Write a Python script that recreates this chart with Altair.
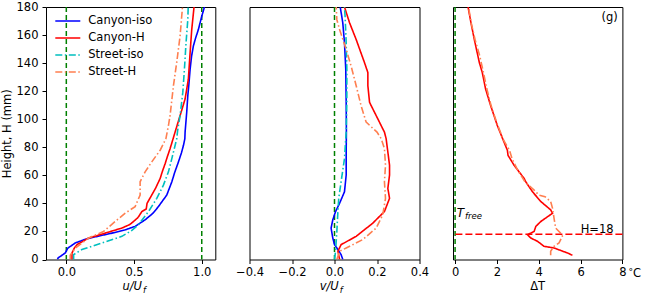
import altair as alt
import pandas as pd

SERIES = ["Canyon-iso", "Canyon-H", "Street-iso", "Street-H"]
COLORS = ["#0000ff", "#ff0000", "#00bfbf", "#ff7f50"]
DASHES = [[1, 0], [1, 0], [7, 2.5, 1.5, 2.5], [7, 2.5, 1.5, 2.5]]

# ---- panel 1: u/U_f ----
u_ci_H = [0, 1.1, 4.7, 8, 11.8, 14.8, 16.5, 18.8, 21, 23.6, 28.3, 33, 37.7, 46, 55.4, 62, 69.6, 76, 81.4, 86, 90.8, 105, 116.8, 125, 135.6, 145, 152.2, 158, 163.9, 173.4, 180]
u_ci = [-0.065, -0.061, -0.007, 0.01, 0.066, 0.152, 0.23, 0.337, 0.43, 0.508, 0.582, 0.64, 0.68, 0.742, 0.779, 0.80, 0.828, 0.85, 0.865, 0.875, 0.877, 0.889, 0.897, 0.905, 0.914, 0.925, 0.938, 0.955, 0.975, 1.0, 1.02]
u_ch_H = [0, 4.7, 8.3, 10.6, 15.3, 18.8, 22.4, 25, 27.1, 30, 34.2, 36, 40, 46, 51, 57.8, 63, 68.4, 73, 79, 85, 90.8, 102.6, 114.4, 128.5, 147.4, 163.9, 180]
u_ch = [0.042, 0.042, 0.06, 0.079, 0.165, 0.287, 0.41, 0.47, 0.496, 0.53, 0.558, 0.59, 0.596, 0.631, 0.66, 0.693, 0.71, 0.73, 0.745, 0.766, 0.785, 0.803, 0.84, 0.877, 0.901, 0.914, 0.926, 0.943]
u_si_H = [0, 3.5, 7.1, 11.8, 16.5, 20.5, 24.8, 34.2, 43.6, 53, 62.5, 71.9, 86, 92, 102.6, 119.1, 135.6, 154.5, 171, 180]
u_si = [0.054, 0.054, 0.115, 0.263, 0.41, 0.48, 0.533, 0.607, 0.668, 0.717, 0.754, 0.779, 0.815, 0.822, 0.84, 0.86, 0.872, 0.884, 0.897, 0.9]
u_sh_H = [0, 3, 8.2, 15.3, 20, 27.1, 33, 37.7, 46, 55.4, 62.5, 69.6, 77.9, 86, 95.5, 102.6, 123.9, 140.4, 159.3, 173.4, 180]
u_sh = [0.029, 0.029, 0.066, 0.165, 0.275, 0.361, 0.435, 0.508, 0.545, 0.545, 0.582, 0.631, 0.693, 0.735, 0.754, 0.766, 0.791, 0.815, 0.84, 0.852, 0.858]

# ---- panel 2: v/U_f ----
v_ci_H = [0, 3.5, 7.1, 10.6, 15.3, 22.4, 28.3, 34.2, 40.1, 48.3, 60.2, 76.7, 90.8, 112, 135.6, 154.5, 168.7, 180]
v_ci = [0.039, 0.031, 0.016, 0.0, -0.008, -0.016, -0.008, 0.005, 0.024, 0.047, 0.055, 0.055, 0.056, 0.055, 0.053, 0.047, 0.039, 0.027]
v_ch_H = [0, 3, 5.9, 10.6, 16.5, 25.9, 34.2, 43.6, 50.7, 60.2, 67.2, 76.7, 86.1, 90.8, 100.2, 112, 123.9, 133.3, 140.4, 156.8, 168.7, 180]
v_ch = [0.024, 0.02, 0.016, 0.031, 0.102, 0.18, 0.235, 0.259, 0.251, 0.259, 0.259, 0.251, 0.243, 0.235, 0.204, 0.165, 0.157, 0.157, 0.141, 0.102, 0.071, 0.047]
v_si_H = [0, 5.9, 20, 34.2, 43.6, 55.4, 71.9, 90.8, 112, 135.6, 154.5, 173, 180]
v_si = [0.0, 0.005, 0.011, 0.016, 0.02, 0.031, 0.047, 0.055, 0.058, 0.058, 0.055, 0.05, 0.047]
v_sh_H = [0, 5.9, 8.2, 14.2, 22.4, 31.9, 43.6, 55.4, 67.2, 79, 86.1, 90.8, 97.9, 109.7, 123.9, 138, 149.8, 163.9, 171, 180]
v_sh = [0.011, 0.024, 0.055, 0.133, 0.196, 0.227, 0.24, 0.235, 0.24, 0.235, 0.22, 0.2, 0.149, 0.125, 0.102, 0.078, 0.055, 0.024, 0.011, 0.008]

# ---- panel 3: Delta T ----
t_ch_H = [3.0, 4.7, 8.2, 9.4, 13, 15.3, 17.7, 20, 23.6, 27.1, 33, 35.4, 41.3, 48.3, 55.4, 57.8, 67.2, 74.3, 77.9, 83.7, 95.5, 109.7, 121.5, 133.3, 140.4, 156.8, 168.7, 180]
t_ch = [5.61, 5.37, 4.73, 4.25, 3.94, 3.62, 3.46, 3.78, 3.86, 4.10, 4.66, 4.57, 4.10, 3.70, 3.38, 3.30, 2.82, 2.53, 2.50, 2.34, 2.02, 1.70, 1.46, 1.30, 1.16, 0.92, 0.76, 0.62]
t_sh_H = [3.0, 5.9, 9.4, 11.8, 16.5, 18.8, 22.4, 29.5, 36.5, 41.3, 44.8, 46, 49.5, 55.4, 64, 72, 77.9, 85, 98, 109.7, 121.5, 133, 145, 157, 168, 180]
t_sh = [4.57, 4.57, 4.73, 4.97, 5.13, 5.05, 4.81, 4.73, 4.66, 4.57, 4.30, 4.0, 3.78, 3.34, 2.98, 2.72, 2.60, 2.32, 1.98, 1.72, 1.52, 1.36, 1.18, 0.95, 0.78, 0.64]

zero_lines_1 = [0.0, 1.0]
zero_lines_2 = [0.0]
zero_lines_3 = [0.0]
ref_height = [18]
ticks_u = [0.0, 0.5, 1.0]
ticks_v = [-0.4, -0.2, 0.0, 0.2, 0.4]
ticks_t = [0, 2, 4, 6, 8]
ticks_h = list(range(0, 181, 20))

FONT = "DejaVu Sans"
FS = 11.5
W1, W2, W3 = 169.3, 170, 169.4
HGT = 252.5


def long(pairs):
    rows = []
    for name, H, vals in pairs:
        for h, v in zip(H, vals):
            rows.append({"series": name, "H": h, "val": v})
    return pd.DataFrame(rows)


yscale = alt.Scale(domain=[0, 180], nice=False, zero=False)


def xaxis(vals, fmt):
    return alt.Axis(values=vals, format=fmt, title=None, grid=False, domain=False,
                    tickSize=4, labelPadding=3, labelFlush=False, labelOverlap=False)


def lines(df, xdom, xax, yax):
    return alt.Chart(df).mark_line(strokeWidth=1.6, clip=True).encode(
        x=alt.X("val:Q", scale=alt.Scale(domain=xdom, nice=False, zero=False), axis=xax),
        y=alt.Y("H:Q", scale=yscale, axis=yax),
        color=alt.Color("series:N", scale=alt.Scale(domain=SERIES, range=COLORS), legend=None),
        strokeDash=alt.StrokeDash("series:N", scale=alt.Scale(domain=SERIES, range=DASHES), legend=None),
        order=alt.Order("H:Q"),
    )


def vrules(vals):
    return alt.Chart(pd.DataFrame({"val": vals})).mark_rule(
        color="#008000", strokeDash=[5, 3], strokeWidth=1.5).encode(x="val:Q")


def label(txt, x, y, size=FS, align="left", style="normal", baseline="alphabetic", color="black"):
    return alt.Chart(pd.DataFrame({"t": [txt]})).mark_text(
        align=align, baseline=baseline, font=FONT, fontSize=size, fontStyle=style, color=color
    ).encode(text="t:N", x=alt.value(x), y=alt.value(y))


yax1 = alt.Axis(values=ticks_h, title="Height, H (mm)", grid=False, domain=False,
                tickSize=4, labelPadding=4, titlePadding=4)

df1 = long([(SERIES[0], u_ci_H, u_ci), (SERIES[1], u_ch_H, u_ch),
            (SERIES[2], u_si_H, u_si), (SERIES[3], u_sh_H, u_sh)])
df2 = long([(SERIES[0], v_ci_H, v_ci), (SERIES[1], v_ch_H, v_ch),
            (SERIES[2], v_si_H, v_si), (SERIES[3], v_sh_H, v_sh)])
df3 = long([(SERIES[1], t_ch_H, t_ch), (SERIES[3], t_sh_H, t_sh)])

# legend (manual, inside panel 1)
legend_layers = []
for i, (name, col, dash) in enumerate(zip(SERIES, COLORS, DASHES)):
    yy = 14 + 17 * i
    legend_layers.append(
        alt.Chart(pd.DataFrame({"t": [name]})).mark_rule(color=col, strokeDash=dash, strokeWidth=1.6)
        .encode(x=alt.value(9.3), x2=alt.value(34.3), y=alt.value(yy))
    )
    legend_layers.append(label(name, 42.3, yy, baseline="middle"))

p1 = alt.layer(
    vrules(zero_lines_1),
    lines(df1, [-0.15, 1.1], xaxis(ticks_u, ".1f"), yax1),
    *legend_layers,
    label("u/U", 96, 283, style="italic", align="right"),
    label("f", 97, 285.5, size=8.5, style="italic"),
).properties(width=W1, height=HGT)

p2 = alt.layer(
    vrules(zero_lines_2),
    lines(df2, [-0.4, 0.4], xaxis(ticks_v, ".1f"), None),
    label("v/U", 89.3, 283, style="italic", align="right"),
    label("f", 90.3, 285.5, size=8.5, style="italic"),
).properties(width=W2, height=HGT)

hline = alt.Chart(pd.DataFrame({"H": ref_height})).mark_rule(
    color="red", strokeDash=[7, 3], strokeWidth=1.6).encode(y=alt.Y("H:Q", scale=yscale))

p3 = alt.layer(
    vrules(zero_lines_3),
    lines(df3, [-0.1, 8.0], xaxis(ticks_t, "d"), None),
    hline,
    label("(g)", 164.7, 14, align="right"),
    label("T", 3.7, 210, size=12, style="italic"),
    label("free", 12, 211.5, size=8.5, style="italic"),
    label("H=18", 127.7, 225.5),
    label("°", 175.5, 268, size=9),
    label("C", 180, 270),
    label("ΔT", 84.7, 283, align="center"),
).properties(width=W3, height=HGT)

chart = alt.hconcat(p1, p2, p3, spacing=33.5, bounds="flush").resolve_scale(
    x="independent", y="independent"
).properties(
    padding={"left": 0, "top": 0, "right": 0, "bottom": 0}
).configure_view(stroke="black", strokeWidth=1).configure_axis(
    labelFont=FONT, labelFontSize=FS, labelColor="black", tickColor="black", tickWidth=1,
    titleFont=FONT, titleFontSize=FS, titleFontWeight="normal", titleColor="black"
)

chart.save("out.html", embed_options={"renderer": "svg", "actions": False})
